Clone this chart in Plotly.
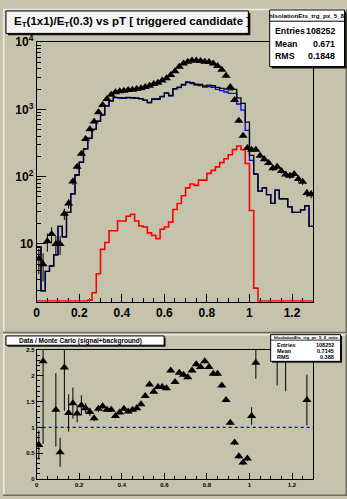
import numpy as np
import plotly.graph_objects as go

W, H = 347, 499
BG = "#c6c3ad"
FONT = "Liberation Sans"

# 65 bins of width 0.02 between 0 and 1.30
bin_edges = np.round(np.arange(0.0, 1.3001, 0.02), 3)
bin_centers = np.round(0.5 * (bin_edges[:-1] + bin_edges[1:]), 3)

# data (triangles)
data_counts = [6, 5, 11, 14, 10, 10, 28, 40, 85, 140,
               219, 362, 506, 661, 912, 1166, 1430, 1650, 1800, 1860,
               1900, 1940, 1960, 2010, 2060, 2150, 2250, 2380, 2500, 2690,
               2920, 3260, 3700, 4300, 4800, 5130, 5360, 5360, 5250, 5130,
               5070, 4800, 4440, 3880, 3180, 2150, 1377, 680, 405, 266,
               252, 252, 205, 182, 160, 133, 140, 122, 108, 103,
               110, 92, 84, 57, 55]

# Monte Carlo signal+background (black)
mc_total = [9.0, 2.0, 3.9, 4.7, 6.9, 18.2, 12.8, 29.5, 55.7, 106,
            165, 259, 374, 506, 667, 832, 1130, 1350, 1510, 1500,
            1480, 1510, 1500, 1480, 1450, 1380, 1270, 1430, 1430, 1560,
            1760, 1610, 2040, 2150, 2350, 2570, 2510, 2370, 2350, 2230,
            2300, 2250, 2130, 2060, 2000, 1950, 1990, 1490, 1230, 646,
            207, 110, 61, 68, 54, 40, 63, 47, 47, 35.5,
            29.5, 29.5, 32, 37, 18.3]

# Monte Carlo background only (blue)
mc_background = [9.0, 2.0, 3.9, 4.7, 6.9, 18.2, 12.8, 29.5, 55.7, 106,
                 165, 259, 372.5, 504, 663, 824, 1120, 1334, 1494, 1478,
                 1458, 1484, 1472, 1458, 1431, 1362, 1255, 1417, 1418, 1544,
                 1742, 1589, 2007, 2110, 2298, 2502, 2432, 2296, 2261, 2141,
                 2188, 2126, 1990, 1898, 1815, 1738, 1737, 1204, 979, 489,
                 175, 108, 61, 68, 54, 40, 63, 47, 47, 35.5,
                 29.5, 29.5, 32, 37, 18.3]

# Monte Carlo signal only (red)
mc_signal = [0, 0, 0, 0, 0, 0, 0, 0, 0, 0,
             0, 0, 1.46, 1.88, 3.6, 8.3, 10.5, 15.7, 15.7, 21.9,
             21.9, 25.8, 27.6, 21.9, 18.5, 17.9, 14.6, 13.4, 12.0, 16.5,
             17.9, 21.1, 32.6, 39.9, 52.2, 68.1, 77.8, 74.3, 88.9, 88.9,
             112, 124, 140, 162, 185, 212, 253, 286, 251, 157,
             31.5, 2.2, 0, 0, 0, 0, 0, 0, 0, 0,
             0, 0, 0, 0, 0]

# data / MC ratio with its uncertainties
ratio_values = [0.66, 2.28, 2.85, 2.9, 1.34, 0.52, 2.16, 1.28, 1.47, 1.27,
                1.43, 1.37, 1.30, 1.18, 1.36, 1.41, 1.34, 1.34, 1.22, 1.29,
                1.36, 1.31, 1.34, 1.37, 1.45, 1.61, 1.83, 1.69, 1.78, 1.78,
                1.76, 2.10, 1.88, 2.06, 2.02, 1.97, 2.10, 2.22, 2.17, 2.28,
                2.17, 2.04, 2.04, 1.81, 1.53, 1.09, 0.71, 0.44, 0.32, 0.40,
                1.22, 2.25, 3.4, 2.7, 3.0, 3.3, 2.45, 2.8, 2.5, 2.9,
                3.7, 3.1, 2.6, 1.53, 3.0]
ratio_errors = [0.28, 1.6, 0.3, 0.3, 0.71, 0.28, 0.84, 0.36, 0.30, 0.17,
                0.19, 0.10, 0.08, 0.06, 0.06, 0.05, 0.04, 0.04, 0.04, 0.04,
                0.04, 0.04, 0.04, 0.04, 0.04, 0.04, 0.04, 0.04, 0.04, 0.04,
                0.04, 0.04, 0.04, 0.04, 0.04, 0.04, 0.04, 0.04, 0.04, 0.04,
                0.04, 0.04, 0.04, 0.04, 0.04, 0.04, 0.05, 0.05, 0.05, 0.05,
                0.17, 0.31, 0.5, 0.15, 0.4, 0.5, 0.64, 0.4, 0.8, 0.5,
                0.8, 0.6, 0.3, 0.49, 0.4]

x_tick_vals = [0, 0.2, 0.4, 0.6, 0.8, 1.0, 1.2]
x_tick_text = ["0", "0.2", "0.4", "0.6", "0.8", "1", "1.2"]
y_tick_vals = [10, 100, 1000, 10000]
y_tick_text = ["10", "10<sup>2</sup>", "10<sup>3</sup>", "10<sup>4</sup>"]
r_tick_vals = [0, 0.5, 1, 1.5, 2, 2.5]
r_tick_text = ["0", "0.5", "1", "1.5", "2", "2.5"]

Y_LOG_MIN, Y_LOG_MAX = 0.14, 4.0
# empty bins are drawn along the bottom of the frame, as ROOT does on a log scale
y_floor = 10 ** (Y_LOG_MIN + 0.012)


def step_xy(values):
    """Histogram outline: one horizontal segment per bin."""
    v = np.maximum(np.asarray(values, dtype=float), y_floor)
    return list(bin_edges), list(v) + [v[-1]]


def px_x(p):
    return p / W


def px_y(p):
    return 1 - p / H


fig = go.Figure()

for vals, col, wid in [(mc_background, "#0000ff", 1.3),
                       (mc_total, "#000000", 1.3),
                       (mc_signal, "#ff0000", 1.6)]:
    sx, sy = step_xy(vals)
    fig.add_trace(go.Scatter(x=sx, y=sy, mode="lines", line=dict(color=col, width=wid, shape="hv"),
                             xaxis="x", yaxis="y", hoverinfo="skip", showlegend=False))

fig.add_trace(go.Scatter(
    x=bin_centers, y=data_counts, mode="markers",
    marker=dict(symbol="triangle-up", size=8, color="black"),
    error_y=dict(type="data", array=np.sqrt(np.asarray(data_counts, dtype=float)),
                 thickness=1, width=0, color="black"),
    xaxis="x", yaxis="y", showlegend=False))

fig.add_trace(go.Scatter(
    x=bin_centers, y=ratio_values, mode="markers",
    marker=dict(symbol="triangle-up", size=8, color="black"),
    error_y=dict(type="data", array=ratio_errors, thickness=1, width=0, color="black"),
    xaxis="x2", yaxis="y2", showlegend=False))

xdom = [px_x(34), px_x(313)]
axis_common = dict(showgrid=False, zeroline=False, showline=True, mirror=True,
                   linecolor="black", linewidth=1, ticks="inside", tickcolor="black",
                   tickwidth=1, layer="below traces")

fig.update_layout(
    width=W, height=H, margin=dict(l=0, r=0, t=0, b=0),
    paper_bgcolor=BG, plot_bgcolor=BG, showlegend=False,
    xaxis=dict(domain=xdom, range=[0, 1.3], anchor="y", tickmode="array",
               tickvals=x_tick_vals, ticktext=x_tick_text, ticklen=8,
               tickfont=dict(family=FONT, size=12, color="black", weight="bold"),
               minor=dict(tickvals=[round(0.05 * i, 2) for i in range(27) if i % 4],
                          ticks="inside", ticklen=4, tickcolor="black"),
               **axis_common),
    yaxis=dict(domain=[px_y(300), px_y(34)], type="log", range=[Y_LOG_MIN, Y_LOG_MAX],
               anchor="x", tickmode="array", tickvals=y_tick_vals, ticktext=y_tick_text,
               ticklen=9, tickfont=dict(family=FONT, size=12, color="black", weight="bold"),
               minor=dict(tickvals=[m * 10 ** d for d in range(0, 4) for m in range(2, 10)],
                          ticks="inside", ticklen=4.5, tickcolor="black"),
               **axis_common),
    xaxis2=dict(domain=xdom, range=[0, 1.3], anchor="y2", tickmode="array",
                tickvals=x_tick_vals, ticktext=x_tick_text, ticklen=6,
                tickfont=dict(family=FONT, size=6, color="black", weight="bold"),
                minor=dict(tickvals=[round(0.05 * i, 2) for i in range(27) if i % 4],
                           ticks="inside", ticklen=3, tickcolor="black"),
                **axis_common),
    yaxis2=dict(domain=[px_y(481.7), px_y(349.3)], range=[0, 2.5], anchor="x2",
                tickmode="array", tickvals=r_tick_vals, ticktext=r_tick_text, ticklen=6,
                tickfont=dict(family=FONT, size=6, color="black", weight="bold"),
                minor=dict(tickvals=[round(0.1 * i, 1) for i in range(26) if i % 5],
                           ticks="inside", ticklen=3, tickcolor="black"),
                **axis_common),
)

shapes = []


def rect(x0, y0, x1, y1, fill, line=None, lw=1):
    shapes.append(dict(type="rect", xref="paper", yref="paper",
                       x0=px_x(x0), x1=px_x(x1), y0=px_y(y1), y1=px_y(y0),
                       fillcolor=fill, line=dict(color=line or fill, width=lw if line else 0),
                       layer="above"))


def hline(x0, x1, y, color, w=1, dash=None):
    shapes.append(dict(type="line", xref="paper", yref="paper",
                       x0=px_x(x0), x1=px_x(x1), y0=px_y(y), y1=px_y(y),
                       line=dict(color=color, width=w, dash=dash), layer="above"))


def vline(x, y0, y1, color, w=1):
    shapes.append(dict(type="line", xref="paper", yref="paper",
                       x0=px_x(x), x1=px_x(x), y0=px_y(y0), y1=px_y(y1),
                       line=dict(color=color, width=w), layer="above"))


LIGHT, DARK = "#eeece4", "#6f6d62"
# pad bevels
hline(0, 347, 0.5, LIGHT, 1.5)
vline(0.8, 0, 332, LIGHT, 1.5)
vline(346.3, 0, 332, DARK, 1.5)
hline(0, 347, 331.5, DARK, 1.5)
hline(0, 347, 333.8, LIGHT, 1.5)
vline(0.8, 333, 499, LIGHT, 1.5)
vline(346.3, 333, 499, DARK, 1.5)
hline(0, 347, 498.2, DARK, 1.5)

# unity line in ratio pad
shapes.append(dict(type="line", xref="x2 domain", yref="y2", x0=0, x1=1, y0=1, y1=1,
                   line=dict(color="#0000ff", width=1.2, dash="3px,3px"), layer="above"))

# title box
rect(5, 4, 249.5, 27, "#111111")
rect(3, 2, 247.5, 25, "#f4f4f4", "black", 1)
# top statistics box
rect(271, 3, 346.5, 61, "#111111")
rect(269, 1, 344.5, 59, "#ffffff", "black", 1)
hline(269, 344.5, 12.5, "black", 1)
# ratio title box
rect(4.5, 336.5, 164, 346, "#111111")
rect(3, 335, 162.5, 344.5, "#ffffff", "black", 1)
# ratio statistics box
rect(271.5, 335, 342, 362.5, "#111111")
rect(270, 333.7, 340.5, 361, "#ffffff", "black", 1)
hline(270, 340.5, 339.3, "black", 0.8)

fig.update_layout(shapes=shapes)

annotations = []


def text(s, x, y, size, anchor="left"):
    annotations.append(dict(text=s, xref="paper", yref="paper", x=px_x(x), y=px_y(y),
                            xanchor=anchor, yanchor="middle", showarrow=False,
                            font=dict(family=FONT, size=size, color="black", weight="bold")))


text("E<sub>T</sub>(1x1)/E<sub>T</sub>(0.3) vs pT [ triggered candidate ]", 9, 13, 11.5)
text("hIsolationEts_trg_px_5_8", 306.8, 6.8, 6.2, "center")
text("Entries", 272.5, 22.7, 8.8)
text("108252", 337, 22.7, 8.8, "right")
text("Mean", 272.5, 35.5, 8.8)
text("0.671", 337, 35.5, 8.8, "right")
text("RMS", 272.5, 48.5, 8.8)
text("0.1848", 337, 48.5, 8.8, "right")

text("Data / Monte Carlo (signal+background)", 14.5, 339.7, 6.5)
text("hIsolationEts_trg_px_5_8_ratio", 305.3, 336.6, 4.3, "center")
text("Entries", 274, 344.2, 5.5)
text("108252", 336, 344.2, 5.5, "right")
text("Mean", 274, 350.4, 5.5)
text("0.7145", 336, 350.4, 5.5, "right")
text("RMS", 274, 357, 5.5)
text("0.388", 336, 357, 5.5, "right")

fig.update_layout(annotations=annotations)

fig.write_html("out.html")
